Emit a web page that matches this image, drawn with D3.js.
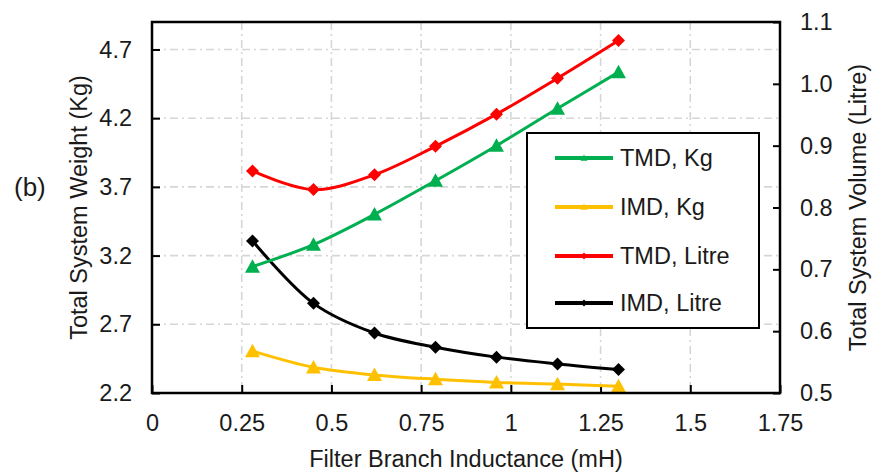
<!DOCTYPE html>
<html>
<head>
<meta charset="utf-8">
<script src="https://cdn.jsdelivr.net/npm/d3@7/dist/d3.min.js"></script>
<style>
  html, body { margin: 0; padding: 0; background: #fff; }
  svg { display: block; }
  text { font-family: "Liberation Sans", Arial, sans-serif; fill: #1a1a1a; }
</style>
</head>
<body>
<svg id="chart" width="873" height="475"></svg>
<script>
// Filter branch inductance (mH)
const inductance = [0.28, 0.45, 0.62, 0.79, 0.96, 1.13, 1.30];

// Weights (Kg) on the left axis
const tmdKg = [3.12, 3.28, 3.50, 3.745, 4.00, 4.27, 4.535];
const imdKg = [2.505, 2.387, 2.331, 2.30, 2.277, 2.265, 2.25];

// Volumes (Litre) on the right axis
const tmdLitre = [0.859, 0.829, 0.853, 0.899, 0.951, 1.009, 1.070];
const imdLitre = [0.746, 0.645, 0.597, 0.574, 0.558, 0.547, 0.538];

// Axis ticks
const xTicks = [0, 0.25, 0.5, 0.75, 1, 1.25, 1.5, 1.75];
const xTickLabels = ["0", "0.25", "0.5", "0.75", "1", "1.25", "1.5", "1.75"];
const leftTicks = [2.2, 2.7, 3.2, 3.7, 4.2, 4.7];
const rightTicks = [0.5, 0.6, 0.7, 0.8, 0.9, 1.0, 1.1];

const seriesNames = ["TMD, Kg", "IMD, Kg", "TMD, Litre", "IMD, Litre"];

const svg = d3.select("#chart");
const plot = { left: 152, right: 780, top: 22, bottom: 393 };

const x = d3.scaleLinear().domain([0, 1.75]).range([plot.left, plot.right]);
const yL = d3.scaleLinear().domain([2.2, 4.9]).range([plot.bottom, plot.top]);
const yR = d3.scaleLinear().domain([0.5, 1.1]).range([plot.bottom, plot.top]);

const fontSize = "23.5px";

// Dash-dot grid lines
const grid = svg.append("g").attr("stroke", "#d6d6d6").attr("stroke-width", 1.6)
  .attr("stroke-dasharray", "8,4,2,4");
grid.selectAll("line.v").data(xTicks.filter(t => t > 0 && t < 1.75)).join("line")
  .attr("x1", d => x(d)).attr("x2", d => x(d))
  .attr("y1", plot.top).attr("y2", plot.bottom);
grid.selectAll("line.h").data(leftTicks.filter(t => t > 2.2)).join("line")
  .attr("x1", plot.left).attr("x2", plot.right)
  .attr("y1", d => yL(d)).attr("y2", d => yL(d));

// Axes with inward ticks
const xAxis = d3.axisBottom(x).tickValues(xTicks)
  .tickFormat((d, i) => xTickLabels[i]).tickSize(-8).tickPadding(21);
const gx = svg.append("g").attr("transform", `translate(0,${plot.bottom})`).call(xAxis);

const leftAxis = d3.axisLeft(yL).tickValues(leftTicks)
  .tickFormat(d3.format(".1f")).tickSize(-8).tickPadding(20);
const gl = svg.append("g").attr("transform", `translate(${plot.left},0)`).call(leftAxis);

const rightAxis = d3.axisRight(yR).tickValues(rightTicks)
  .tickFormat(d3.format(".1f")).tickSize(-7).tickPadding(20);
const gr = svg.append("g").attr("transform", `translate(${plot.right},0)`).call(rightAxis);

[gx, gl, gr].forEach(g => {
  g.select(".domain").remove();
  g.selectAll(".tick line").attr("stroke", "#000").attr("stroke-width", 2);
  g.selectAll(".tick text").style("font-size", fontSize).attr("fill", "#1a1a1a");
});

// Series
const series = [
  { name: seriesNames[0], values: tmdKg, y: yL, color: "#00b050", marker: "triangle" },
  { name: seriesNames[1], values: imdKg, y: yL, color: "#ffc000", marker: "triangle" },
  { name: seriesNames[2], values: tmdLitre, y: yR, color: "#ff0000", marker: "diamond" },
  { name: seriesNames[3], values: imdLitre, y: yR, color: "#000000", marker: "diamond" }
];

function markerPath(type, s) {
  if (type === "triangle") {
    const h = s * 0.9;
    return `M0,${-h * 0.55}L${s / 2},${h * 0.45}L${-s / 2},${h * 0.45}Z`;
  }
  const r = s / 2;
  return `M0,${-r}L${r},0L0,${r}L${-r},0Z`;
}

const drawOrder = [3, 2, 1, 0];
drawOrder.forEach(i => {
  const s = series[i];
  const pts = inductance.map((v, k) => [x(v), s.y(s.values[k])]);
  const line = d3.line().curve(d3.curveCatmullRom.alpha(0.5));
  svg.append("path").attr("d", line(pts)).attr("fill", "none")
    .attr("stroke", s.color).attr("stroke-width", 3).attr("stroke-linejoin", "round");
  svg.append("g").selectAll("path").data(pts).join("path")
    .attr("transform", d => `translate(${d[0]},${d[1]})`)
    .attr("d", markerPath(s.marker, s.marker === "triangle" ? 15 : 13))
    .attr("fill", s.color);
});

// Legend
const legend = svg.append("g");
legend.append("rect").attr("x", 527).attr("y", 133).attr("width", 232).attr("height", 195)
  .attr("fill", "#fff").attr("stroke", "#000").attr("stroke-width", 2);
const rowY = [158, 207, 256, 303];
series.forEach((s, i) => {
  const g = legend.append("g").attr("transform", `translate(0,${rowY[i]})`);
  g.append("line").attr("x1", 555).attr("x2", 613).attr("y1", 0).attr("y2", 0)
    .attr("stroke", s.color).attr("stroke-width", 4);
  g.append("path").attr("transform", "translate(584,0)")
    .attr("d", markerPath(s.marker, 7)).attr("fill", s.color);
  g.append("text").attr("x", 620).attr("y", 0).attr("dy", "0.35em")
    .style("font-size", fontSize).text(s.name);
});

// Plot frame
svg.append("rect").attr("x", plot.left).attr("y", plot.top)
  .attr("width", plot.right - plot.left).attr("height", plot.bottom - plot.top)
  .attr("fill", "none").attr("stroke", "#000").attr("stroke-width", 2.5);

// Axis titles
svg.append("text").attr("x", (plot.left + plot.right) / 2).attr("y", 467)
  .attr("text-anchor", "middle").style("font-size", fontSize)
  .text("Filter Branch Inductance (mH)");
svg.append("text").attr("transform", `translate(87,${(plot.top + plot.bottom) / 2}) rotate(-90)`)
  .attr("text-anchor", "middle").style("font-size", fontSize)
  .text("Total System Weight (Kg)");
svg.append("text").attr("transform", `translate(866,${(plot.top + plot.bottom) / 2}) rotate(-90)`)
  .attr("text-anchor", "middle").style("font-size", fontSize)
  .text("Total System Volume (Litre)");

// Panel label
svg.append("text").attr("x", 14).attr("y", 196).style("font-size", "26px").text("(b)");
</script>
</body>
</html>
